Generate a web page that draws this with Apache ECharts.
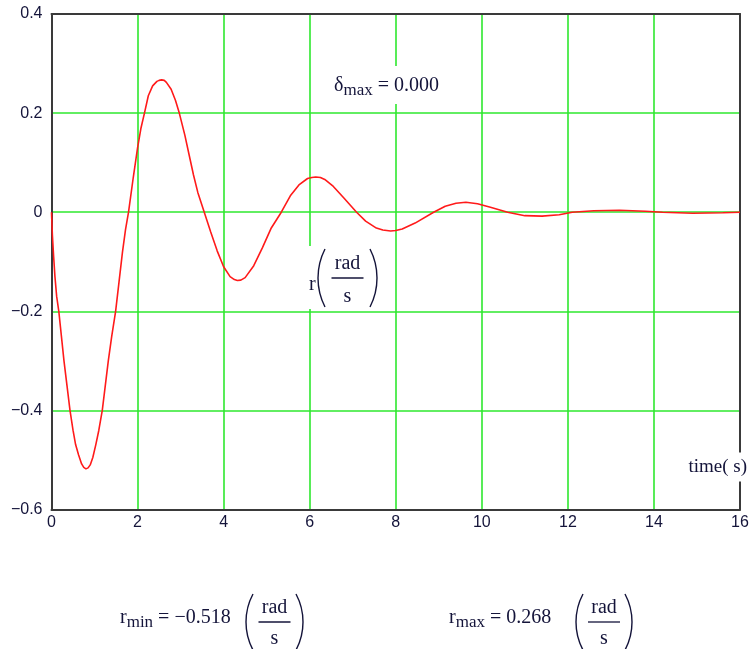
<!DOCTYPE html>
<html>
<head>
<meta charset="utf-8">
<script src="https://cdn.jsdelivr.net/npm/echarts@6/dist/echarts.min.js"></script>
<style>html,body{margin:0;padding:0;background:#fff}#c{width:752px;height:649px}</style>
</head>
<body>
<div id="c"></div>
<script>
// time (s)
const timeS = [0,0.02,0.05,0.08,0.12,0.17,0.23,0.29,0.36,0.43,0.50,0.56,0.63,0.70,0.75,0.80,0.85,0.90,0.96,1.03,1.10,1.18,1.25,1.32,1.40,1.49,1.57,1.65,1.72,1.79,1.90,2.00,2.08,2.16,2.25,2.35,2.45,2.50,2.56,2.62,2.67,2.78,2.88,2.97,3.10,3.20,3.30,3.40,3.55,3.70,3.85,4.00,4.15,4.25,4.32,4.40,4.50,4.70,4.90,5.10,5.34,5.55,5.75,5.95,6.05,6.14,6.25,6.35,6.55,6.80,7.09,7.30,7.55,7.70,7.88,8.00,8.15,8.45,8.88,9.15,9.40,9.63,9.90,10.2,10.6,11.0,11.4,11.8,12.1,12.6,13.2,13.8,14.2,14.9,15.6,16];
// yaw rate r (rad/s)
const rateR = [0,-0.045,-0.09,-0.13,-0.17,-0.20,-0.25,-0.30,-0.35,-0.40,-0.44,-0.469,-0.49,-0.508,-0.515,-0.518,-0.516,-0.510,-0.495,-0.469,-0.44,-0.40,-0.35,-0.30,-0.25,-0.20,-0.14,-0.08,-0.035,0,0.07,0.13,0.17,0.20,0.235,0.255,0.264,0.266,0.267,0.266,0.262,0.248,0.226,0.20,0.155,0.115,0.075,0.04,0,-0.04,-0.078,-0.110,-0.130,-0.136,-0.138,-0.137,-0.132,-0.108,-0.072,-0.033,0,0.033,0.055,0.068,0.070,0.071,0.070,0.066,0.052,0.028,0,-0.018,-0.032,-0.036,-0.038,-0.037,-0.034,-0.022,0,0.012,0.018,0.020,0.017,0.010,0,-0.007,-0.008,-0.005,0,0.003,0.004,0.002,0,-0.002,-0.001,0];
const xTicks = {min:0, max:16, interval:2};
const yTicks = {min:-0.6, max:0.4, interval:0.2};
const deltaMax = '0.000';
const rMin = '\u22120.518';
const rMax = '0.268';

const chart = echarts.init(document.getElementById('c'));
const txt = '#14143a';
const serif = '"Liberation Serif","Times New Roman",serif';
const sans = '"Liberation Sans",Arial,sans-serif';
const green = '#2ee82e';
const axisCol = '#3a3a3a';
const data = timeS.map((t,i)=>[t, rateR[i]]);

// parenthesis as an arc; xe = outermost x (left edge for "(", right edge for ")")
function paren(xe, cy, h, left) {
  const s = 7;
  const R = ((h/2)*(h/2) + s*s)/(2*s);
  const half = Math.asin((h/2)/R);
  const ccx = left ? xe + R : xe - R;
  const a0 = left ? Math.PI - half : -half;
  const a1 = left ? Math.PI + half : half;
  return {type:'arc', z:110, shape:{cx:ccx, cy:cy, r:R, startAngle:a0, endAngle:a1, clockwise:true},
    style:{stroke:txt, lineWidth:1.4, fill:null}};
}
function fraction(xl, xr, cy, h, sOff) {
  const mid = (xl + xr)/2;
  return [
    paren(xl, cy, h, true),
    {type:'text', z:110, style:{text:'rad', x:mid, y:cy-4, font:'20px '+serif, fill:txt, align:'center', verticalAlign:'bottom'}},
    {type:'line', z:110, shape:{x1:mid-16, y1:cy, x2:mid+16, y2:cy}, style:{stroke:txt, lineWidth:1.3}},
    {type:'text', z:110, style:{text:'s', x:mid, y:cy+sOff, font:'20px '+serif, fill:txt, align:'center', verticalAlign:'top'}},
    paren(xr, cy, h, false)
  ];
}
const rich = {a:{font:'20px '+serif, fill:txt}, b:{font:'17px '+serif, fill:txt, padding:[10,0,0,0]}};

const graphics = [
  {type:'rect', z:105, shape:{x:330, y:66, width:118, height:38}, style:{fill:'#fff'}},
  {type:'text', z:110, style:{text:'{a|\u03b4}{b|max}{a| = '+deltaMax+'}', x:334, y:86, verticalAlign:'middle', rich:rich}},
  {type:'rect', z:105, shape:{x:306, y:246, width:75, height:63}, style:{fill:'#fff'}},
  {type:'text', z:110, style:{text:'r', x:309, y:285, font:'20px '+serif, fill:txt, verticalAlign:'middle'}},
  ...fraction(318, 377, 278, 58, 9),
  {type:'text', z:110, style:{text:'time( s)', x:748, y:467, font:'19px '+serif, fill:txt, align:'right', verticalAlign:'middle',
    backgroundColor:'#fff', padding:[5,1,5,2]}},
  {type:'text', z:110, style:{text:'{a|r}{b|min}{a| = '+rMin+'}', x:120, y:618, verticalAlign:'middle', rich:rich}},
  ...fraction(246, 303, 622, 56, 7),
  {type:'text', z:110, style:{text:'{a|r}{b|max}{a| = '+rMax+'}', x:449, y:618, verticalAlign:'middle', rich:rich}},
  ...fraction(576, 632, 622, 56, 7)
];

chart.setOption({
  animation:false,
  backgroundColor:'#fff',
  grid:{left:51.5, right:12, top:14, bottom:139.5, containLabel:false},
  xAxis:[{
    type:'value', min:xTicks.min, max:xTicks.max, interval:xTicks.interval,
    axisLine:{show:true, onZero:false, lineStyle:{color:axisCol, width:2}},
    axisTick:{show:false},
    axisLabel:{color:txt, fontFamily:sans, fontSize:16, margin:5},
    splitLine:{show:true, showMinLine:false, showMaxLine:false, lineStyle:{color:green, width:1.6}}
  },{
    type:'value', position:'top', min:xTicks.min, max:xTicks.max, interval:xTicks.interval,
    axisLine:{show:true, onZero:false, lineStyle:{color:axisCol, width:2}},
    axisTick:{show:false}, axisLabel:{show:false}, splitLine:{show:false}
  }],
  yAxis:[{
    type:'value', min:yTicks.min, max:yTicks.max, interval:yTicks.interval,
    axisLine:{show:true, onZero:false, lineStyle:{color:axisCol, width:2}},
    axisTick:{show:false},
    axisLabel:{color:txt, fontFamily:sans, fontSize:16, margin:9,
      formatter:v=>Math.abs(v)<1e-9?'0':v.toFixed(1).replace('-','\u2212')},
    splitLine:{show:true, showMinLine:false, showMaxLine:false, lineStyle:{color:green, width:1.6}}
  },{
    type:'value', position:'right', min:yTicks.min, max:yTicks.max, interval:yTicks.interval,
    axisLine:{show:true, onZero:false, lineStyle:{color:axisCol, width:2}},
    axisTick:{show:false}, axisLabel:{show:false}, splitLine:{show:false}
  }],
  series:[{
    type:'line', data:data, showSymbol:false, smooth:false,
    lineStyle:{color:'#ff1a1a', width:1.6}, z:3
  }],
  graphic:graphics
});
</script>
</body>
</html>
